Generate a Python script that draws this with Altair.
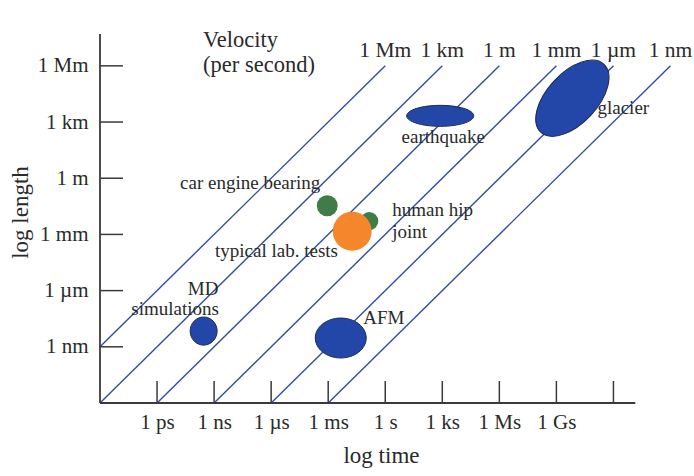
import altair as alt
import pandas as pd

# ---------------- data (log10 exponents) ----------------
time_tick_exp = [-12, -9, -6, -3, 0, 3, 6, 9]
time_tick_labels = ["1 ps", "1 ns", "1 µs", "1 ms", "1 s", "1 ks", "1 Ms", "1 Gs"]
time_extra_ticks = [12]
length_tick_exp = [-9, -6, -3, 0, 3, 6]
length_tick_labels = ["1 nm", "1 µm", "1 mm", "1 m", "1 km", "1 Mm"]

velocity_exp = [6, 3, 0, -3, -6, -9]
velocity_labels = ["1 Mm", "1 km", "1 m", "1 mm", "1 µm", "1 nm"]

ellipse_names = ["MD simulations", "AFM", "earthquake", "glacier"]
ellipse_t = [-9.55, -2.34, 2.89, 9.84]
ellipse_l = [-8.16, -8.53, 3.33, 4.27]
ellipse_dt = [1.42, 2.68, 3.53, 2.65]
ellipse_dl = [1.50, 2.13, 1.12, 4.95]
ellipse_tilt = [0, 0, 0, 43]

spot_names = ["car engine bearing", "human hip joint", "typical lab. tests"]
spot_t = [-3.05, -0.84, -1.74]
spot_l = [-1.47, -2.29, -2.83]
spot_d = [1.10, 0.95, 2.05]

left_texts = ["car engine bearing", "human hip", "joint", "typical lab. tests", "AFM", "glacier"]
left_t = [-10.79, 0.37, 0.37, -8.95, -1.16, 11.16]
left_l = [-0.25, -1.70, -2.87, -3.88, -7.46, 3.75]

center_texts = ["MD", "simulations", "earthquake"]
center_t = [-9.58, -11.05, 3.05]
center_l = [-5.91, -6.98, 2.20]

title_lines = ["Velocity", "(per second)"]
title_t = [-9.58, -9.58]
title_l = [7.38, 6.05]

axis_t_end = 13.15
axis_l_end = 7.7

# ---------------- layout / style ----------------
X_DOM = [-15, 15.5]
Y_DOM = [-12, 8.5]
PXX = 19.0
PXY = 18.75
W = round((X_DOM[1] - X_DOM[0]) * PXX)
H = round((Y_DOM[1] - Y_DOM[0]) * PXY)
LEFT, TOP = 100, 19
FONT = "Liberation Serif"
TXT = "#2a2a2a"
LINE_BLUE = "#2f4ea0"
FILL_BLUE = "#2347a8"
ORANGE = "#f5862c"
GREEN = "#3f7c48"
AXIS_C = "#3a3a3a"

xs = alt.Scale(domain=X_DOM, nice=False, zero=False)
ys = alt.Scale(domain=Y_DOM, nice=False, zero=False)


def label_expr(vals, labels):
    parts = [f"datum.value == {v} ? '{lab}'" for v, lab in zip(vals, labels)]
    return " : ".join(parts) + " : ''"


X_AXIS = alt.Axis(
    values=time_tick_exp, labelExpr=label_expr(time_tick_exp, time_tick_labels),
    ticks=False, tickSize=0, domain=False, grid=False,
    labelFont=FONT, labelFontSize=21, labelColor=TXT, labelPadding=8,
    title="log time", titleFont=FONT, titleFontSize=23, titleFontWeight="normal",
    titleColor=TXT, titleX=281, titleY=52, titleAlign="center", titleBaseline="middle")
Y_AXIS = alt.Axis(
    values=length_tick_exp, labelExpr=label_expr(length_tick_exp, length_tick_labels),
    ticks=False, tickSize=0, domain=False, grid=False,
    labelFont=FONT, labelFontSize=21, labelColor=TXT, labelPadding=12,
    title="log length", titleFont=FONT, titleFontSize=23, titleFontWeight="normal",
    titleColor=TXT, titleX=-80, titleY=193, titleAngle=270, titleAlign="center",
    titleBaseline="middle")


def X(field):
    return alt.X(field, scale=xs, axis=X_AXIS)


def Y(field):
    return alt.Y(field, scale=ys, axis=Y_AXIS)


# ---------------- velocity lines ----------------
rows = []
for v, lab in zip(velocity_exp, velocity_labels):
    t0 = max(X_DOM[0], Y_DOM[0] - v)
    rows.append({"t": t0, "l": t0 + v, "t2": 6 - v, "l2": 6, "lab": lab})
vel = pd.DataFrame(rows)

lines = alt.Chart(vel).mark_rule(color=LINE_BLUE, strokeWidth=1.4).encode(
    x=X("t:Q"), y=Y("l:Q"), x2="t2:Q", y2="l2:Q")

vel_labels = alt.Chart(vel).transform_calculate(t="datum.t2", l="datum.l2").mark_text(
    font=FONT, fontSize=21.5, color=TXT, align="center", baseline="middle", dy=-15
).encode(x=X("t:Q"), y=Y("l:Q"), text="lab:N")

# ---------------- axes lines and inward ticks ----------------
axes_df = pd.DataFrame({"t": [X_DOM[0], X_DOM[0]], "t2": [X_DOM[0], axis_t_end],
                        "l": [Y_DOM[0], Y_DOM[0]], "l2": [axis_l_end, Y_DOM[0]]})
axes = alt.Chart(axes_df).mark_rule(color=AXIS_C, strokeWidth=1.8).encode(
    x=X("t:Q"), x2="t2:Q", y=Y("l:Q"), y2="l2:Q")

xt = alt.Chart(pd.DataFrame({"t": time_tick_exp + time_extra_ticks})).mark_rule(
    color=AXIS_C, strokeWidth=1.5).encode(
    x=X("t:Q"), y=alt.value(H), y2=alt.value(H - 22))
yt = alt.Chart(pd.DataFrame({"l": length_tick_exp})).mark_rule(
    color=AXIS_C, strokeWidth=1.5).encode(
    y=Y("l:Q"), x=alt.value(0), x2=alt.value(23))

# ---------------- ellipses ----------------
K = 0.5523


def ellipse_path(r):
    return (f"M1,0 C1,{K*r:.4f} {K},{r:.4f} 0,{r:.4f} "
            f"C{-K},{r:.4f} -1,{K*r:.4f} -1,0 "
            f"C-1,{-K*r:.4f} {-K},{-r:.4f} 0,{-r:.4f} "
            f"C{K},{-r:.4f} 1,{-K*r:.4f} 1,0 Z")


ell = pd.DataFrame({"name": ellipse_names, "t": ellipse_t, "l": ellipse_l,
                    "dt": ellipse_dt, "dl": ellipse_dl, "tilt": ellipse_tilt})
ell["size"] = (ell["dt"] * PXX) ** 2
ell["path"] = [ellipse_path(dl * PXY / (dt * PXX)) for dt, dl in zip(ell["dt"], ell["dl"])]

ellipses = alt.Chart(ell).mark_point(
    filled=True, fill=FILL_BLUE, stroke="#1d2a55", strokeWidth=1, opacity=1
).encode(
    x=X("t:Q"), y=Y("l:Q"),
    shape=alt.Shape("path:N", scale=None), size=alt.Size("size:Q", scale=None),
    angle=alt.Angle("tilt:Q", scale=None),
)

spots = pd.DataFrame({"name": spot_names, "t": spot_t, "l": spot_l, "d": spot_d})
spots["size"] = (spots["d"] * PXX) ** 2
spot_layer = alt.Chart(spots).mark_point(
    filled=True, shape="circle", opacity=1, strokeWidth=0
).encode(
    x=X("t:Q"), y=Y("l:Q"),
    size=alt.Size("size:Q", scale=None),
    color=alt.Color("name:N", scale=alt.Scale(domain=spot_names, range=[GREEN, GREEN, ORANGE]),
                    legend=None),
)

# ---------------- annotations ----------------
left_df = pd.DataFrame({"txt": left_texts, "t": left_t, "l": left_l})
center_df = pd.DataFrame({"txt": center_texts, "t": center_t, "l": center_l})
title_df = pd.DataFrame({"txt": title_lines, "t": title_t, "l": title_l})

left_layer = alt.Chart(left_df).mark_text(
    font=FONT, fontSize=19, color=TXT, align="left", baseline="middle"
).encode(x=X("t:Q"), y=Y("l:Q"), text="txt:N")
center_layer = alt.Chart(center_df).mark_text(
    font=FONT, fontSize=19, color=TXT, align="center", baseline="middle"
).encode(x=X("t:Q"), y=Y("l:Q"), text="txt:N")
title_layer = alt.Chart(title_df).mark_text(
    font=FONT, fontSize=22.5, color=TXT, align="left", baseline="middle"
).encode(x=X("t:Q"), y=Y("l:Q"), text="txt:N")

chart = alt.layer(
    lines, axes, xt, yt, ellipses, spot_layer, vel_labels, left_layer, center_layer, title_layer
).properties(
    width=W, height=H,
    padding={"left": LEFT, "top": TOP, "right": 694 - LEFT - W, "bottom": 476 - TOP - H},
    autosize=alt.AutoSizeParams(type="none"),
    background="white",
).configure_view(strokeWidth=0)

chart.save("out.html", embed_options={"renderer": "svg", "actions": False})
